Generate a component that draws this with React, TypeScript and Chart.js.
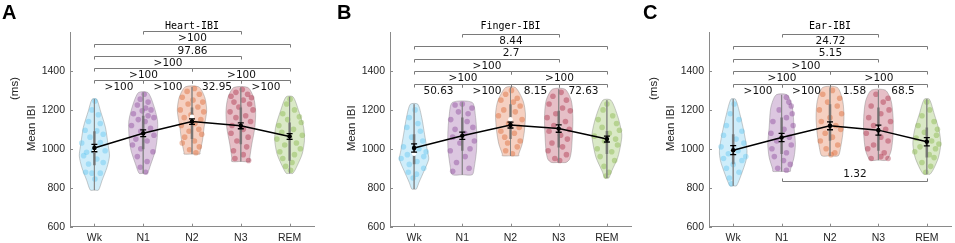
import React, { useEffect, useRef } from 'react';
import { Chart, registerables } from 'chart.js';
Chart.register(...registerables);

// ---------- data ----------
const stages = ['Wk', 'N1', 'N2', 'N3', 'REM'];
const yTickValues = [600, 800, 1000, 1200, 1400];
const panelLetters = ['A', 'B', 'C'];
const panelTitles = ['Heart-IBI', 'Finger-IBI', 'Ear-IBI'];
const panelHasUnits = [true, false, true];

// mean ± SEM
const heartMean = [1004, 1080, 1140, 1118, 1063];
const heartSem = [19, 17, 14, 15, 15];
const fingerMean = [1004, 1067, 1122, 1104, 1050];
const fingerSem = [21, 19, 15, 19, 15];
const earMean = [993, 1058, 1118, 1096, 1036];
const earSem = [23, 21, 20, 26, 21];

// box stats
const heartMedian = [990, 1080, 1165, 1120, 1060];
const heartQ1 = [915, 998, 1050, 1024, 939];
const heartQ3 = [1090, 1170, 1212, 1212, 1135];
const fingerMedian = [975, 1067, 1152, 1110, 1050];
const fingerQ1 = [921, 990, 1050, 1007, 973];
const fingerQ3 = [1075, 1161, 1229, 1195, 1092];
const earMedian = [990, 1058, 1120, 1100, 1035];
const earQ1 = [921, 973, 1041, 990, 956];
const earQ3 = [1075, 1161, 1229, 1212, 1110];

// violin outlines: levels (ms, top -> bottom) and relative density
const heartViolinLevels = [
  [1255, 1195, 1110, 1024, 964, 904, 836, 788],
  [1289, 1229, 1144, 1058, 990, 922, 874],
  [1318, 1263, 1195, 1110, 1041, 982, 973],
  [1315, 1263, 1195, 1110, 1024, 956, 935],
  [1267, 1195, 1110, 1041, 973, 913, 874],
];
const heartViolinDensity = [
  [0.15, 0.4, 0.73, 0.9, 1.0, 0.83, 0.5, 0.27],
  [0.31, 0.67, 0.95, 0.93, 0.8, 0.51, 0.27],
  [0.45, 0.85, 0.97, 0.8, 0.69, 0.53, 0.53],
  [0.47, 0.85, 0.98, 0.93, 0.73, 0.6, 0.6],
  [0.23, 0.6, 0.93, 0.98, 0.83, 0.5, 0.22],
];
const fingerViolinLevels = [
  [1229, 1161, 1075, 990, 947, 887, 828, 793],
  [1238, 1161, 1075, 990, 905, 867],
  [1315, 1246, 1178, 1092, 1024, 973, 964],
  [1306, 1246, 1161, 1075, 990, 947, 930],
  [1250, 1161, 1075, 1024, 956, 887, 850],
];
const fingerViolinDensity = [
  [0.25, 0.51, 0.7, 0.89, 0.98, 0.67, 0.33, 0.15],
  [0.67, 0.89, 0.97, 0.95, 0.8, 0.67],
  [0.33, 0.85, 1.0, 0.93, 0.78, 0.55, 0.55],
  [0.43, 0.85, 0.95, 0.92, 0.85, 0.73, 0.49],
  [0.27, 0.75, 1.0, 0.93, 0.73, 0.33, 0.13],
];
const earViolinLevels = [
  [1255, 1178, 1075, 990, 939, 870, 810],
  [1277, 1212, 1110, 1024, 956, 896, 884],
  [1315, 1246, 1161, 1075, 1007, 964],
  [1301, 1246, 1161, 1075, 990, 942],
  [1255, 1178, 1092, 1024, 956, 896, 870],
];
const earViolinDensity = [
  [0.15, 0.45, 0.75, 0.92, 0.85, 0.55, 0.22],
  [0.37, 0.72, 0.83, 0.92, 0.83, 0.6, 0.58],
  [0.49, 0.85, 0.93, 0.85, 0.71, 0.55],
  [0.47, 0.85, 0.98, 0.98, 0.85, 0.55],
  [0.17, 0.5, 0.83, 0.93, 0.78, 0.45, 0.22],
];

// individual subject points (value, horizontal jitter in category units)
const heartPointsY = [
  [1245, 1200, 1175, 1140, 1130, 1095, 1092, 1075, 1060, 1030, 1032, 990, 982, 990, 965, 948, 930, 922, 880, 875, 875, 845],
  [1280, 1255, 1240, 1225, 1210, 1200, 1195, 1180, 1170, 1160, 1150, 1140, 1120, 1105, 1090, 1070, 1050, 1040, 1020, 1000, 985, 960, 935, 905, 880],
  [1310, 1295, 1280, 1265, 1250, 1240, 1230, 1215, 1200, 1190, 1175, 1160, 1150, 1130, 1120, 1100, 1090, 1075, 1060, 1040, 1030, 1010, 995, 980],
  [1305, 1290, 1280, 1270, 1262, 1250, 1240, 1230, 1215, 1200, 1190, 1170, 1160, 1140, 1120, 1100, 1080, 1060, 1040, 1010, 990, 970, 950, 940],
  [1255, 1230, 1200, 1180, 1165, 1150, 1135, 1120, 1100, 1085, 1070, 1060, 1050, 1030, 1020, 1000, 985, 970, 950, 930, 910, 890],
];
const heartPointsDx = [
  [0.01, -0.05, 0.08, -0.12, 0.12, -0.19, 0.05, 0.18, -0.09, -0.26, 0.12, -0.02, -0.16, 0.22, -0.22, 0.05, 0.18, -0.12, -0.18, -0.05, 0.12, 0.01],
  [0.02, -0.06, 0.1, -0.12, 0.05, 0.16, -0.02, -0.2, 0.1, 0.22, -0.1, 0.04, -0.24, 0.15, -0.05, 0.22, -0.15, 0.08, -0.22, -0.05, 0.2, -0.12, 0.08, -0.06, 0.05],
  [0.05, -0.1, 0.15, -0.2, 0.02, 0.22, -0.08, 0.12, -0.24, 0.24, -0.02, -0.16, 0.18, 0.06, -0.22, 0.14, -0.06, 0.2, -0.15, 0.05, -0.2, 0.15, -0.05, 0.08],
  [0.03, -0.1, 0.14, -0.2, 0.22, 0.05, -0.14, 0.18, -0.04, 0.25, -0.22, 0.1, -0.1, 0.2, -0.18, 0.05, -0.2, 0.15, -0.08, 0.12, -0.15, 0.05, -0.12, 0.16],
  [0.01, -0.06, 0.1, -0.14, 0.2, -0.04, 0.24, -0.22, 0.08, -0.16, 0.26, 0.0, -0.26, 0.14, -0.1, 0.22, -0.2, 0.1, -0.14, 0.05, -0.08, 0.02],
];
const fingerPointsY = [
  [1200, 1160, 1130, 1110, 1090, 1060, 1040, 1010, 1000, 985, 970, 960, 950, 935, 920, 900, 880, 870, 850],
  [1230, 1225, 1210, 1190, 1180, 1150, 1140, 1110, 1100, 1080, 1060, 1040, 1030, 1000, 990, 960, 930, 900, 885],
  [1300, 1280, 1260, 1250, 1240, 1220, 1200, 1190, 1170, 1150, 1130, 1110, 1090, 1080, 1060, 1040, 1030, 1010, 990, 975],
  [1290, 1270, 1250, 1230, 1210, 1195, 1180, 1160, 1140, 1120, 1100, 1090, 1070, 1050, 1030, 1010, 990, 970, 950, 940],
  [1230, 1200, 1170, 1150, 1130, 1110, 1095, 1080, 1065, 1050, 1040, 1020, 1000, 985, 960, 940, 910, 880, 860],
];
const fingerPointsDx = [
  [0.02, -0.1, 0.08, -0.15, 0.13, -0.05, 0.18, -0.22, 0.1, 0.25, -0.14, 0.2, -0.27, 0.06, -0.1, 0.2, -0.12, 0.05, -0.02],
  [0.0, -0.15, 0.2, -0.08, 0.12, -0.24, 0.1, 0.22, -0.15, 0.05, -0.2, 0.25, -0.05, 0.16, -0.25, 0.06, -0.12, 0.14, -0.2],
  [0.02, -0.1, 0.14, -0.2, 0.06, 0.2, -0.14, 0.1, -0.25, 0.24, -0.04, 0.18, -0.2, 0.08, -0.12, 0.2, -0.06, 0.14, -0.1, 0.04],
  [0.05, -0.12, 0.16, -0.2, 0.08, 0.24, -0.06, -0.24, 0.14, -0.1, 0.22, -0.2, 0.04, 0.18, -0.14, 0.08, -0.22, 0.16, -0.08, 0.02],
  [0.0, -0.08, 0.12, -0.18, 0.2, -0.1, 0.26, 0.05, -0.26, 0.18, -0.05, 0.22, -0.2, 0.1, -0.14, 0.16, -0.06, 0.04, -0.02],
];
const earPointsY = [
  [1230, 1180, 1150, 1120, 1090, 1070, 1050, 1030, 1010, 990, 975, 960, 950, 940, 920, 900, 880, 850, 820],
  [1265, 1240, 1220, 1200, 1180, 1160, 1140, 1120, 1100, 1080, 1060, 1040, 1020, 1000, 980, 960, 940, 920, 900, 890],
  [1300, 1280, 1260, 1240, 1220, 1200, 1180, 1160, 1140, 1120, 1100, 1080, 1060, 1040, 1020, 1000, 980, 970],
  [1280, 1260, 1240, 1220, 1200, 1180, 1160, 1140, 1120, 1100, 1080, 1060, 1040, 1020, 1000, 980, 960, 950, 950],
  [1240, 1200, 1170, 1140, 1120, 1100, 1085, 1070, 1055, 1040, 1025, 1010, 1000, 985, 970, 955, 930, 910, 880],
];
const earPointsDx = [
  [0.02, -0.06, 0.12, -0.14, 0.18, -0.2, 0.06, 0.22, -0.25, 0.1, -0.1, 0.26, -0.2, 0.18, 0.0, -0.14, 0.12, -0.08, -0.04],
  [0.1, 0.15, 0.2, -0.05, 0.22, 0.1, -0.18, 0.24, 0.05, -0.22, 0.16, -0.1, 0.2, -0.2, 0.1, -0.15, 0.04, 0.18, -0.08, 0.1],
  [0.05, -0.15, 0.2, -0.05, 0.15, -0.22, 0.24, 0.0, -0.18, 0.12, 0.22, -0.1, 0.05, -0.2, 0.16, -0.08, 0.1, 0.02],
  [-0.05, 0.2, 0.1, -0.15, 0.22, 0.05, -0.2, 0.25, -0.1, 0.15, -0.25, 0.05, 0.2, -0.1, -0.22, 0.12, 0.05, -0.15, 0.2],
  [0.0, 0.06, -0.1, 0.15, -0.18, 0.22, -0.05, 0.2, -0.22, 0.1, 0.25, -0.14, 0.18, -0.25, 0.05, 0.15, -0.1, 0.08, -0.02],
];

// pairwise comparison brackets (stage index 1..5, level in ms, label)
const heartBracketFrom = [2, 1, 1, 1, 3, 1, 2, 3, 4];
const heartBracketTo = [4, 5, 4, 3, 5, 2, 3, 4, 5];
const heartBracketLevel = [1604, 1540, 1477, 1415, 1415, 1351, 1351, 1351, 1351];
const heartBracketText = ['>100', '97.86', '>100', '>100', '>100', '>100', '>100', '32.95', '>100'];
const fingerBracketFrom = [2, 1, 1, 1, 3, 1, 2, 3, 4];
const fingerBracketTo = [4, 5, 4, 3, 5, 2, 3, 4, 5];
const fingerBracketLevel = [1592, 1527, 1462, 1398, 1398, 1335, 1335, 1335, 1335];
const fingerBracketText = ['8.44', '2.7', '>100', '>100', '>100', '50.63', '>100', '8.15', '72.63'];
const earBracketFrom = [2, 1, 1, 1, 3, 1, 2, 3, 4, 2];
const earBracketTo = [4, 5, 4, 3, 5, 2, 3, 4, 5, 5];
const earBracketLevel = [1592, 1527, 1462, 1398, 1398, 1335, 1335, 1335, 1335, 837];
const earBracketText = ['24.72', '5.15', '>100', '>100', '>100', '>100', '>100', '1.58', '68.5', '1.32'];

// ---------- styling ----------
const stageColors = ['#4DBEEE', '#7E2F8E', '#D95319', '#A2142F', '#77AC30'];
const VIOLIN_HALF = 0.31;
const AXIS_COLOR = '#8a8a8a';
const TEXT_COLOR = '#262626';
const SANS = '"Liberation Sans", Arial, sans-serif';

function rgba(hex: string, a: number) {
  const n = parseInt(hex.slice(1), 16);
  return `rgba(${(n >> 16) & 255},${(n >> 8) & 255},${n & 255},${a})`;
}

type Panel = {
  idx: number;
  left: number; width: number; axisLeft: number; padRight: number; letterX: number;
  mean: number[]; sem: number[]; median: number[]; q1: number[]; q3: number[];
  levels: number[][]; dens: number[][]; py: number[][]; pdx: number[][];
  bFrom: number[]; bTo: number[]; bLevel: number[]; bText: string[];
};

const panels: Panel[] = [
  { idx: 0, left: 0, width: 318, axisLeft: 70, padRight: 4, letterX: 2,
    mean: heartMean, sem: heartSem, median: heartMedian, q1: heartQ1, q3: heartQ3,
    levels: heartViolinLevels, dens: heartViolinDensity, py: heartPointsY, pdx: heartPointsDx,
    bFrom: heartBracketFrom, bTo: heartBracketTo, bLevel: heartBracketLevel, bText: heartBracketText },
  { idx: 1, left: 318, width: 317, axisLeft: 72, padRight: 2, letterX: 19,
    mean: fingerMean, sem: fingerSem, median: fingerMedian, q1: fingerQ1, q3: fingerQ3,
    levels: fingerViolinLevels, dens: fingerViolinDensity, py: fingerPointsY, pdx: fingerPointsDx,
    bFrom: fingerBracketFrom, bTo: fingerBracketTo, bLevel: fingerBracketLevel, bText: fingerBracketText },
  { idx: 2, left: 635, width: 320, axisLeft: 74, padRight: 2, letterX: 8,
    mean: earMean, sem: earSem, median: earMedian, q1: earQ1, q3: earQ3,
    levels: earViolinLevels, dens: earViolinDensity, py: earPointsY, pdx: earPointsDx,
    bFrom: earBracketFrom, bTo: earBracketTo, bLevel: earBracketLevel, bText: earBracketText },
];

function buildDatasets(p: Panel) {
  const ds: any[] = [];
  stages.forEach((_, i) => {
    const c = stageColors[i];
    const cx = i + 1;
    const lv = p.levels[i];
    const dn = p.dens[i];
    const top = lv[0];
    const bottom = lv[lv.length - 1];
    const leftSide = lv.map((L, k) => ({ x: cx - dn[k] * VIOLIN_HALF, y: L })).reverse();
    const rightSide = lv.map((L, k) => ({ x: cx + dn[k] * VIOLIN_HALF, y: L }));
    ds.push({
      data: [{ x: cx, y: bottom }, ...leftSide, ...rightSide, { x: cx, y: bottom }],
      showLine: true, fill: 'shape', backgroundColor: rgba(c, 0.27),
      borderColor: 'rgba(125,125,125,0.5)', borderWidth: 0.8, pointRadius: 0,
      tension: 0.25, order: 6,
    });
    ds.push({
      data: p.py[i].map((v, k) => ({ x: cx + p.pdx[i][k], y: v })),
      showLine: false, pointRadius: 2.8, backgroundColor: rgba(c, 0.36), borderWidth: 0, order: 5,
    });
    ds.push({
      data: [{ x: cx, y: top }, { x: cx, y: bottom }],
      showLine: true, borderColor: 'rgba(130,130,130,0.85)', borderWidth: 0.8, pointRadius: 0, order: 4,
    });
    ds.push({
      data: [{ x: cx, y: p.q1[i] }, { x: cx, y: p.q3[i] }],
      showLine: true, borderColor: 'rgba(105,105,105,0.75)', borderWidth: 2.6, pointRadius: 0, order: 3,
    });
    ds.push({
      data: [{ x: cx, y: p.median[i] }],
      showLine: false, pointRadius: 2.3, backgroundColor: '#ffffff', borderWidth: 0, order: 2,
    });
  });
  ds.push({
    data: p.mean.map((m, i) => ({ x: i + 1, y: m })),
    showLine: true, borderColor: '#000', borderWidth: 1.5, pointRadius: 2.3,
    pointBackgroundColor: '#000', pointBorderWidth: 0, order: 0,
  });
  return ds;
}

function makeDecor(p: Panel) {
  return {
    id: 'decor' + p.idx,
    afterDraw(chart: any) {
      const { ctx, chartArea } = chart;
      const xs = chart.scales.x;
      const ys = chart.scales.y;
      ctx.save();
      // inward ticks
      ctx.strokeStyle = AXIS_COLOR;
      ctx.lineWidth = 1;
      ctx.beginPath();
      for (const v of yTickValues) {
        const py = Math.round(ys.getPixelForValue(v)) + 0.5;
        ctx.moveTo(chartArea.left, py);
        ctx.lineTo(chartArea.left + 3, py);
      }
      stages.forEach((_, i) => {
        const px = Math.round(xs.getPixelForValue(i + 1)) + 0.5;
        ctx.moveTo(px, chartArea.bottom);
        ctx.lineTo(px, chartArea.bottom - 3);
      });
      ctx.stroke();

      // error bars
      ctx.strokeStyle = '#000';
      ctx.lineWidth = 1.3;
      ctx.beginPath();
      p.mean.forEach((m, i) => {
        const px = xs.getPixelForValue(i + 1);
        const y1 = ys.getPixelForValue(m - p.sem[i]);
        const y2 = ys.getPixelForValue(m + p.sem[i]);
        ctx.moveTo(px, y1); ctx.lineTo(px, y2);
        ctx.moveTo(px - 3, y1); ctx.lineTo(px + 3, y1);
        ctx.moveTo(px - 3, y2); ctx.lineTo(px + 3, y2);
      });
      ctx.stroke();

      // brackets
      ctx.strokeStyle = '#7a7a7a';
      ctx.lineWidth = 1;
      ctx.fillStyle = '#111';
      ctx.font = '10.5px "DejaVu Sans", sans-serif';
      ctx.textAlign = 'center';
      ctx.textBaseline = 'alphabetic';
      p.bFrom.forEach((f, k) => {
        const x1 = Math.round(xs.getPixelForValue(f)) + 0.5;
        const x2 = Math.round(xs.getPixelForValue(p.bTo[k])) + 0.5;
        const py = Math.round(ys.getPixelForValue(p.bLevel[k])) + 0.5;
        const below = p.bLevel[k] < 1000;
        const dir = below ? -1 : 1;
        ctx.beginPath();
        ctx.moveTo(x1, py + 3 * dir);
        ctx.lineTo(x1, py);
        ctx.lineTo(x2, py);
        ctx.lineTo(x2, py + 3 * dir);
        ctx.stroke();
        const tx = (x1 + x2) / 2;
        ctx.fillText(p.bText[k], tx, below ? py - 4.5 : py + 9.3);
      });

      // panel letter
      ctx.fillStyle = '#000';
      ctx.textAlign = 'left';
      ctx.font = `bold 20px ${SANS}`;
      ctx.fillText(panelLetters[p.idx], p.letterX, 19);

      // title
      ctx.textAlign = 'center';
      ctx.font = '10px "DejaVu Sans Mono", monospace';
      ctx.fillText(panelTitles[p.idx], (chartArea.left + chartArea.right) / 2, 29.3);

      // y label
      ctx.fillStyle = TEXT_COLOR;
      ctx.font = `11.5px ${SANS}`;
      ctx.textBaseline = 'middle';
      ctx.save();
      ctx.translate(chartArea.left - 38, (chartArea.top + chartArea.bottom) / 2 - 1);
      ctx.rotate(-Math.PI / 2);
      ctx.fillText('Mean IBI', 0, 0);
      ctx.restore();
      if (panelHasUnits[p.idx]) {
        ctx.save();
        ctx.translate(chartArea.left - 55, 88.5);
        ctx.rotate(-Math.PI / 2);
        ctx.fillText('(ms)', 0, 0);
        ctx.restore();
      }
      ctx.restore();
    },
  };
}

function PanelChart({ p }: { p: Panel }) {
  const ref = useRef<HTMLCanvasElement | null>(null);
  useEffect(() => {
    if (!ref.current) return;
    const tickFont = { family: SANS, size: 10.5 };
    const chart = new Chart(ref.current, {
      type: 'scatter',
      data: { datasets: buildDatasets(p) },
      options: {
        animation: false,
        responsive: false,
        maintainAspectRatio: false,
        devicePixelRatio: 1,
        events: [],
        layout: { padding: { left: 0, right: p.padRight, top: 32, bottom: 0 } },
        plugins: { legend: { display: false }, tooltip: { enabled: false } },
        scales: {
          x: {
            type: 'linear', min: 0.5, max: 5.5,
            afterBuildTicks: (s: any) => { s.ticks = stages.map((_, i) => ({ value: i + 1 })); },
            afterFit: (s: any) => { s.height = 16.3; },
            ticks: {
              callback: (v: any) => stages[Math.round(Number(v)) - 1] ?? '',
              font: tickFont, color: TEXT_COLOR, padding: 5, autoSkip: false, maxRotation: 0,
            },
            grid: { drawOnChartArea: false, drawTicks: false },
            border: { color: AXIS_COLOR, width: 1 },
          },
          y: {
            type: 'linear', min: 600, max: 1600,
            afterBuildTicks: (s: any) => { s.ticks = yTickValues.map((v) => ({ value: v })); },
            afterFit: (s: any) => { s.width = p.axisLeft; },
            ticks: {
              callback: (v: any) => String(v),
              font: tickFont, color: TEXT_COLOR, padding: 5, autoSkip: false,
            },
            grid: { drawOnChartArea: false, drawTicks: false },
            border: { color: AXIS_COLOR, width: 1 },
          },
        },
      } as any,
      plugins: [makeDecor(p)],
    });
    return () => chart.destroy();
  }, [p]);
  return (
    <canvas
      ref={ref}
      width={p.width}
      height={243}
      style={{ position: 'absolute', left: p.left, top: 0, width: p.width, height: 243 }}
    />
  );
}

export default function App() {
  return (
    <div style={{ position: 'absolute', left: 0, top: 0, width: 955, height: 243, background: '#fff', overflow: 'hidden' }}>
      {panels.map((p) => (
        <PanelChart key={p.idx} p={p} />
      ))}
    </div>
  );
}
